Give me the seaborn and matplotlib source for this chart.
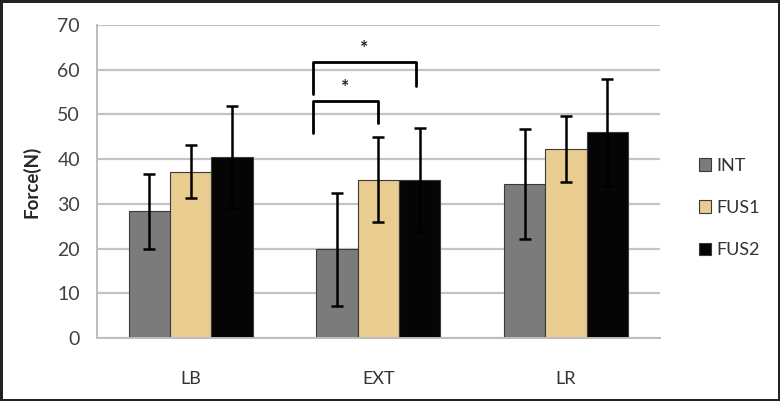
import pandas as pd
import matplotlib.pyplot as plt
import seaborn as sns

# data
movements = ['LB', 'EXT', 'LR']
groups = ['INT', 'FUS1', 'FUS2']
int_mean = [28.3, 19.8, 34.4]
fus1_mean = [37.2, 35.4, 42.2]
fus2_mean = [40.4, 35.3, 46.0]
int_sd = [8.3, 12.6, 12.3]
fus1_sd = [5.9, 9.5, 7.4]
fus2_sd = [11.4, 11.6, 12.0]

# significance brackets on EXT: (x_left, x_right, y_top, y_left_end, y_right_end)
brackets = [(0.65, 1.0, 53.0, 45.8, 48.0), (0.65, 1.2, 61.7, 54.5, 56.3)]

sns.set_style('white')
plt.rcParams['font.family'] = ['Lato', 'DejaVu Sans']

df = pd.DataFrame({
    'movement': movements * 3,
    'group': [g for g in groups for _ in movements],
    'force': int_mean + fus1_mean + fus2_mean,
})
errs = {'INT': int_sd, 'FUS1': fus1_sd, 'FUS2': fus2_sd}
colors = ['#7b7b7b', '#e9cc8f', '#050505']

fig = plt.figure(figsize=(7.8, 4.01), dpi=100, edgecolor='#222222', linewidth=2.5)
ax = fig.add_axes([0.124, 0.157, 0.722, 0.781])

sns.barplot(data=df, x='movement', y='force', hue='group', hue_order=groups,
            palette=colors, width=0.66, errorbar=None, saturation=1,
            edgecolor='#3a3a3a', linewidth=0.8, ax=ax, zorder=2)

# error bars from the bar positions seaborn chose
for g, cont in zip(groups, ax.containers):
    for bar, e in zip(cont, errs[g]):
        xc = bar.get_x() + bar.get_width() / 2
        ax.errorbar(xc, bar.get_height(), yerr=e, fmt='none', ecolor='black',
                    elinewidth=1.8, capsize=4.5, capthick=1.8, zorder=3)

for x0, x1, yt, yl, yr in brackets:
    ax.plot([x0, x0, x1, x1], [yl, yt, yt, yr], color='black', lw=2, zorder=3)
    ax.text((x0 + x1) / 2, yt + 1.2, '*', ha='center', va='bottom',
            fontsize=14, fontweight='bold', color='#222222')

ax.set_ylim(0, 70)
ax.set_xlim(-0.5, 2.5)
ax.set_yticks(range(0, 71, 10))
ax.yaxis.grid(True, color='#c4c4c4', lw=1.6, zorder=0)
ax.set_axisbelow(True)
for s in ['top', 'right']:
    ax.spines[s].set_visible(False)
for s in ['left', 'bottom']:
    ax.spines[s].set_color('#bdbdbd')
    ax.spines[s].set_linewidth(1.4)
ax.tick_params(axis='y', length=7, color='#bdbdbd', width=1.2, labelsize=14,
               labelcolor='#404040', pad=5)
ax.tick_params(axis='x', length=0, labelsize=13, labelcolor='#333333', pad=24)
ax.set_xlabel('')
ax.set_ylabel('Force(N)', fontsize=13.5, fontweight='bold', color='#262626', labelpad=12)

ax.legend(loc='center left', bbox_to_anchor=(1.04, 0.415), frameon=False,
          fontsize=13, labelspacing=1.45, handlelength=0.7, handleheight=0.7,
          handletextpad=0.3, labelcolor='#333333')

fig.savefig('out.png', dpi=100, edgecolor=fig.get_edgecolor())
